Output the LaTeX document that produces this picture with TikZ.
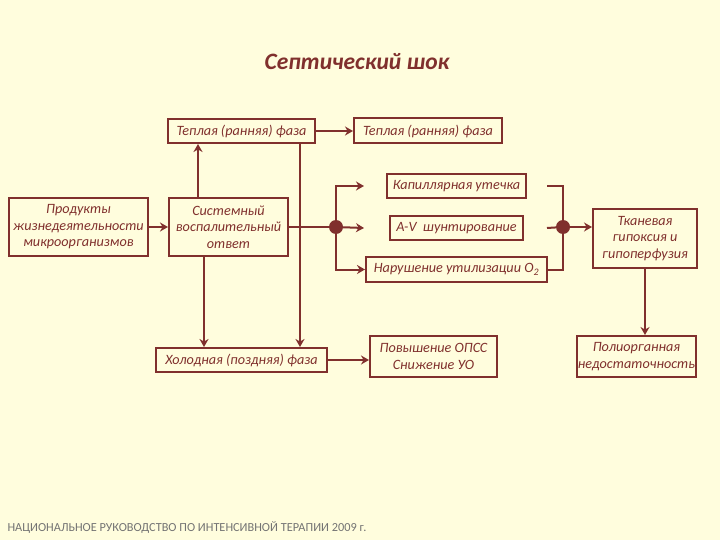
\documentclass[tikz,border=0pt]{standalone}
\usepackage{fontspec}
\setmainfont{Carlito}
\usetikzlibrary{arrows.meta, positioning}
\definecolor{bgYellow}{RGB}{255,253,221}
\definecolor{boxBrown}{RGB}{128,48,45}
\definecolor{noteGray}{RGB}{115,115,115}

\begin{document}
\begin{tikzpicture}[x=1pt, y=-1pt,
    every node/.style={text=boxBrown, font=\itshape\fontsize{14.2}{16.5}\selectfont},
    box/.style 2 args={draw=boxBrown, line width=2pt, align=center, inner sep=0pt,
        minimum width=#1, minimum height=#2},
    flow/.style={draw=boxBrown, line width=2pt, -{Stealth[length=8pt, width=9pt]}},
    link/.style={draw=boxBrown, line width=2pt},
    junction/.style={circle, fill=boxBrown, inner sep=0pt, minimum size=14pt},
]
    % page
    \fill[bgYellow] (0,0) rectangle (720,540);
    \node[font=\bfseries\itshape\fontsize{23.5}{28}\selectfont] (title) at (357,62) {Септический шок};

    % boxes
    \node[box={147}{24}] (warmLeft) at (241.5,131) {Теплая (ранняя) фаза};
    \node[box={148}{25}] (warmRight) at (428,131) {Теплая (ранняя) фаза};
    \node[box={139}{58}] (products) at (78.5,227) {Продукты\\жизнедеятельности\\микроорганизмов};
    \node[box={119}{58}] (sirs) at (228.5,227) {Системный\\воспалительный\\ответ};
    \node[box={171}{24}] (coldPhase) at (241.5,360) {Холодная (поздняя) фаза};
    \node[box={139}{24}] (leak) at (456.5,186) {Капиллярная утечка};
    \node[box={133}{24}] (shunt) at (456.5,228) {A-V\ \ шунтирование};
    \node[box={181}{25}] (oxygen) at (456.5,269.5) {Нарушение утилизации O\textsubscript{2}};
    \node[box={127}{41}] (resist) at (433.5,356.5) {Повышение ОПСС\\Снижение УО};
    \node[box={104}{59}] (hypoxia) at (645,238.5) {Тканевая\\гипоксия и\\гипоперфузия};
    \node[box={119}{41}] (organs) at (636.5,356.5) {Полиорганная\\недостаточность};

    \node[junction] (split) at (336,227) {};
    \node[junction] (merge) at (563,227) {};

    % connectors
    \draw[flow] (warmLeft) -- (warmRight);
    \draw[flow] (products) -- (sirs);
    \draw[flow] ([xshift=-30.5pt]sirs.north) -- ([xshift=-30.5pt]sirs.north |- warmLeft.south);
    \draw[flow] ([xshift=-24.5pt]sirs.south) -- ([xshift=-24.5pt]sirs.south |- coldPhase.north);
    \draw[flow] ([xshift=58.5pt]warmLeft.south) -- ([xshift=58.5pt]warmLeft.south |- coldPhase.north);
    \draw[flow] (coldPhase.east) -- (coldPhase.east -| resist.west);
    \draw[link] (sirs) -- (split);
    \draw[flow] (split) |- ([xshift=-22pt]leak.west);
    \draw[flow] (split) -- ([xshift=-25pt]shunt.west);
    \draw[flow] (split) |- (oxygen.west);
    \draw[link] ([xshift=20pt]leak.east) -| (merge);
    \draw[link] ([xshift=23pt]shunt.east) -- (merge);
    \draw[link] (oxygen.east) -| (merge);
    \draw[flow] (merge) -- (merge -| hypoxia.west);
    \draw[flow] (hypoxia.south) -- (hypoxia.south |- organs.north);

    \node[anchor=west, text=noteGray, font=\fontsize{12.3}{14}\selectfont] (source) at (4,527)
        {НАЦИОНАЛЬНОЕ РУКОВОДСТВО ПО ИНТЕНСИВНОЙ ТЕРАПИИ 2009 г.};
\end{tikzpicture}
\end{document}
